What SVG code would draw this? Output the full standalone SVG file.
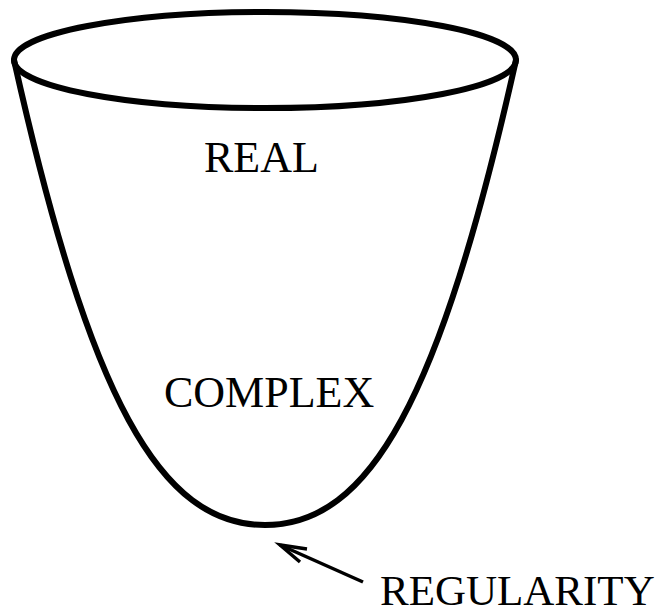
<svg xmlns="http://www.w3.org/2000/svg" width="661" height="613" viewBox="0 0 661 613">
<style>
.s{fill:none;stroke:#000;stroke-width:6;stroke-linejoin:round;stroke-linecap:round}
.a{fill:none;stroke:#000;stroke-width:3.5;stroke-linecap:butt}
.t{font-family:"Liberation Serif","Times New Roman",serif;font-size:44px;fill:#000}
</style>
<rect width="661" height="613" fill="#fff"/>
<g id="bowl">
<path class="s" d="M14,60 C90,400 160,525 265,525 C370,525 440,400 516,60"/>
<ellipse class="s" cx="265" cy="60" rx="251" ry="48"/>
</g>
<g id="real"><text class="t" x="204" y="172">REAL</text></g>
<g id="complex"><text class="t" x="164" y="407">COMPLEX</text></g>
<g id="regularity"><text class="t" x="380" y="605" style="font-size:43px">REGULARITY</text></g>
<g id="connectors">
<path class="a" d="M363,582 L280,545"/>
<path class="a" d="M307,549 L280,545 L300,562"/>
</g>
</svg>
